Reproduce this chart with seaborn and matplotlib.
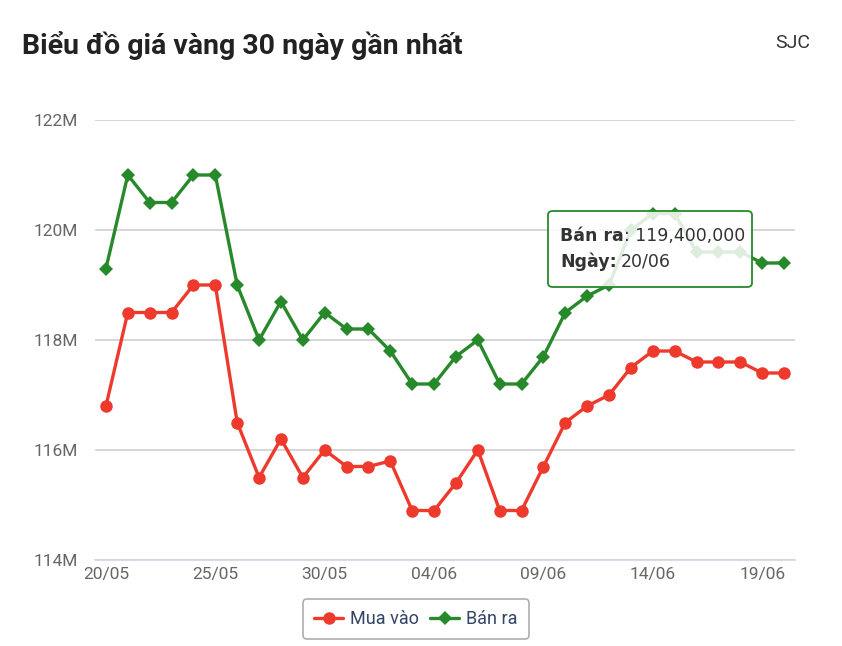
import matplotlib
matplotlib.use("Agg")
import matplotlib.pyplot as plt
from matplotlib.patches import FancyBboxPatch
from matplotlib.lines import Line2D
import seaborn as sns
import pandas as pd
import numpy as np

dates = ["20/05", "21/05", "22/05", "23/05", "24/05", "25/05", "26/05", "27/05",
         "28/05", "29/05", "30/05", "31/05", "01/06", "02/06", "03/06", "04/06",
         "05/06", "06/06", "07/06", "08/06", "09/06", "10/06", "11/06", "12/06",
         "13/06", "14/06", "15/06", "16/06", "17/06", "18/06", "19/06", "20/06"]
mua_vao = [116.8, 118.5, 118.5, 118.5, 119.0, 119.0, 116.5, 115.5,
           116.2, 115.5, 116.0, 115.7, 115.7, 115.8, 114.9, 114.9,
           115.4, 116.0, 114.9, 114.9, 115.7, 116.5, 116.8, 117.0,
           117.5, 117.8, 117.8, 117.6, 117.6, 117.6, 117.4, 117.4]
ban_ra = [119.3, 121.0, 120.5, 120.5, 121.0, 121.0, 119.0, 118.0,
          118.7, 118.0, 118.5, 118.2, 118.2, 117.8, 117.2, 117.2,
          117.7, 118.0, 117.2, 117.2, 117.7, 118.5, 118.8, 119.0,
          120.0, 120.3, 120.3, 119.6, 119.6, 119.6, 119.4, 119.4]
y_ticks = [114, 116, 118, 120, 122]
series_names = ["Mua vào", "Bán ra"]

RED = "#ee3a2c"
GREEN = "#27892a"

sns.set_theme(style="white")
plt.rcParams['font.family'] = ['Roboto', 'DejaVu Sans']

n = len(dates)
df = pd.DataFrame({
    "idx": list(range(n)) * 2,
    "value": mua_vao + ban_ra,
    "series": [series_names[0]] * n + [series_names[1]] * n,
})

fig = plt.figure(figsize=(8.42, 6.46), dpi=100)
W, H = 842, 646
ax = fig.add_axes([95 / W, 1 - 560 / H, 700 / W, 440 / H])

sns.lineplot(data=df[df.series == series_names[0]], x="idx", y="value", ax=ax,
             color=RED, lw=2.4, marker="o", markersize=9, markeredgewidth=0,
             legend=False, clip_on=False)
sns.lineplot(data=df[df.series == series_names[1]], x="idx", y="value", ax=ax,
             color=GREEN, lw=2.4, marker="D", markersize=7, markeredgewidth=0,
             legend=False, clip_on=False)

ax.set_xlim(-0.5, n - 0.5)
ax.set_ylim(114, 122)
ax.set_yticks(y_ticks)
ax.set_yticklabels([f"{v}M" for v in y_ticks], color="#666666", fontsize=12.5)
ax.yaxis.grid(True, color="#d0d0d0", lw=1.2)
ax.tick_params(axis="y", length=0, pad=12)

major = list(range(0, n, 5))
ax.set_xticks(major)
ax.set_xticklabels([dates[i] for i in major], color="#666666", fontsize=12.5)
ax.set_xticks([i - 0.5 for i in range(n + 1)], minor=True)
ax.tick_params(axis="x", which="major", length=0, pad=5)
ax.tick_params(axis="x", which="minor", length=6, width=1, color="#ccd6eb", direction="out")
for s in ["top", "right", "left"]:
    ax.spines[s].set_visible(False)
ax.spines["bottom"].set_color("#ccd6eb")
ax.spines["bottom"].set_linewidth(1.2)
ax.set_xlabel("")
ax.set_ylabel("")

# title
fig.text(22 / W, 1 - 45 / H, "Biểu đồ giá vàng 30 ngày gần nhất", fontsize=20.5,
         fontweight="bold", color="#222222", va="center", ha="left")
fig.text(810 / W, 1 - 43 / H, "SJC", fontsize=14, color="#333333", va="center", ha="right")

# tooltip
TIPFONT = ['DejaVu Sans']
tip = FancyBboxPatch((548 / W, 1 - 287 / H), 204 / W, 76 / H,
                     boxstyle="round,pad=0,rounding_size=0.006",
                     transform=fig.transFigure, facecolor=(1, 1, 1, 0.85),
                     edgecolor=GREEN, lw=1.3, zorder=10)
fig.patches.append(tip)
t1 = fig.text(560 / W, 1 - 236 / H, "Bán ra", fontsize=12.5, fontweight="bold",
              family=TIPFONT, color="#333333", va="center", zorder=11)
fig.canvas.draw()
r = fig.canvas.get_renderer()
bb = t1.get_window_extent(r)
fig.text(bb.x1 / W, 1 - 236 / H, ": 119,400,000", fontsize=12.5, family=TIPFONT,
         color="#333333", va="center", zorder=11)
t2 = fig.text(560 / W, 1 - 262 / H, "Ngày:", fontsize=12.5, fontweight="bold",
              family=TIPFONT, color="#333333", va="center", zorder=11)
bb2 = t2.get_window_extent(r)
fig.text(bb2.x1 / W + 4 / W, 1 - 262 / H, "20/06", fontsize=12.5, family=TIPFONT,
         color="#333333", va="center", zorder=11)

# legend
handles = [Line2D([], [], color=RED, lw=2.4, marker="o", markersize=9, markeredgewidth=0),
           Line2D([], [], color=GREEN, lw=2.4, marker="D", markersize=7, markeredgewidth=0)]
leg = fig.legend(handles, series_names, loc="center", bbox_to_anchor=(416 / W, 1 - 619 / H),
                 ncol=2, frameon=True, fontsize=13, handlelength=1.6, columnspacing=0.6,
                 handletextpad=0.4, borderpad=0.6, fancybox=True)
leg.get_frame().set_edgecolor("#999999")
leg.get_frame().set_linewidth(1.2)
for t in leg.get_texts():
    t.set_color("#334466")

fig.savefig("out.png", dpi=100)
